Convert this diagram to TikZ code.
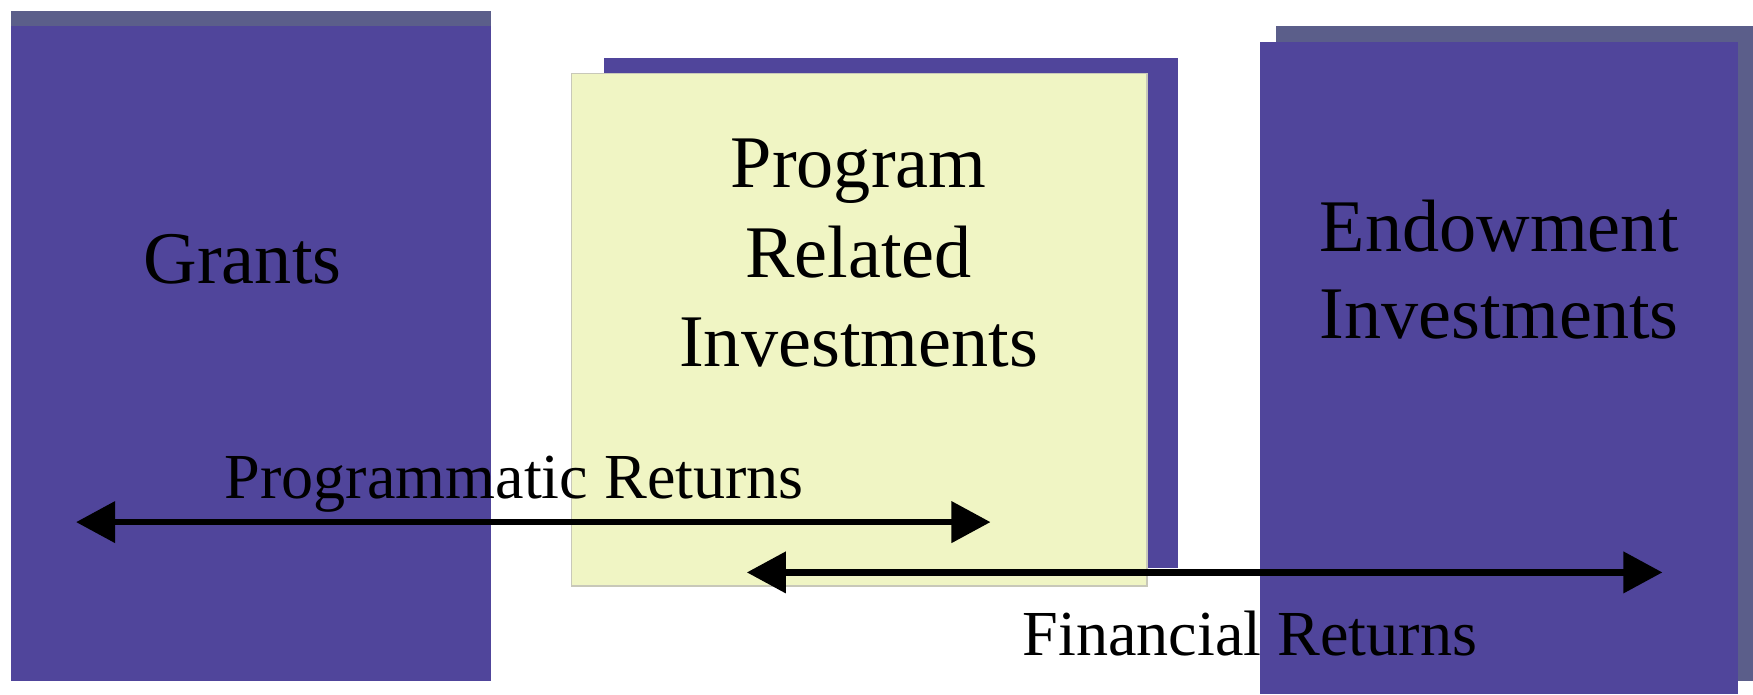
\documentclass[tikz,border=0pt]{standalone}
\usepackage{fontspec}
\setmainfont{Liberation Serif}
\usetikzlibrary{arrows.meta}
\definecolor{mainpurple}{RGB}{80,69,155}
\definecolor{shadowgray}{RGB}{91,94,138}
\definecolor{pryellow}{RGB}{240,245,196}
\definecolor{prborder}{RGB}{200,200,185}
\tikzset{
  bigtext/.style={font=\fontsize{33.2pt}{40pt}\selectfont, inner sep=0pt, anchor=base, align=center},
  labeltext/.style={font=\fontsize{28.7pt}{34pt}\selectfont, inner sep=0pt, anchor=base},
  retarrow/.style={line width=3pt, {Triangle[length=17.5pt,width=18pt]}-{Triangle[length=17.5pt,width=18pt]}},
}
\begin{document}
\begin{tikzpicture}[x=0.5pt,y=-0.5pt]
\useasboundingbox (0,0) rectangle (1568,621);
% Grants
\fill[shadowgray] (10,10) rectangle (439,609);
\fill[mainpurple] (10,23) rectangle (439,609);
% Program related investments
\fill[mainpurple] (540,52) rectangle (1054,508);
\filldraw[fill=pryellow, draw=prborder, line width=0.6pt] (511,66) rectangle (1026,524);
% Endowment
\fill[shadowgray] (1141,23) rectangle (1568,609);
\fill[mainpurple] (1127,38) rectangle (1555,621);
% texts
\node[bigtext] (grants) at (217,254) {Grants};
\node[bigtext] (pri1) at (768,168) {Program};
\node[bigtext] (pri2) at (768,248) {Related};
\node[bigtext] (pri3) at (768,328) {Investments};
\node[bigtext] (end1) at (1341,225) {Endowment};
\node[bigtext] (end2) at (1341,303) {Investments};
\node[labeltext] (proglabel) at (460,446) {Programmatic Returns};
\node[labeltext] (finlabel) at (1118,586) {Financial Returns};
% arrows
\coordinate (pa) at (68,467);
\coordinate (pb) at (886,467);
\coordinate (fa) at (668,512);
\coordinate (fb) at (1487,512);
\draw[retarrow] (pa) -- (pb);
\draw[retarrow] (fa) -- (fb);
\end{tikzpicture}
\end{document}
